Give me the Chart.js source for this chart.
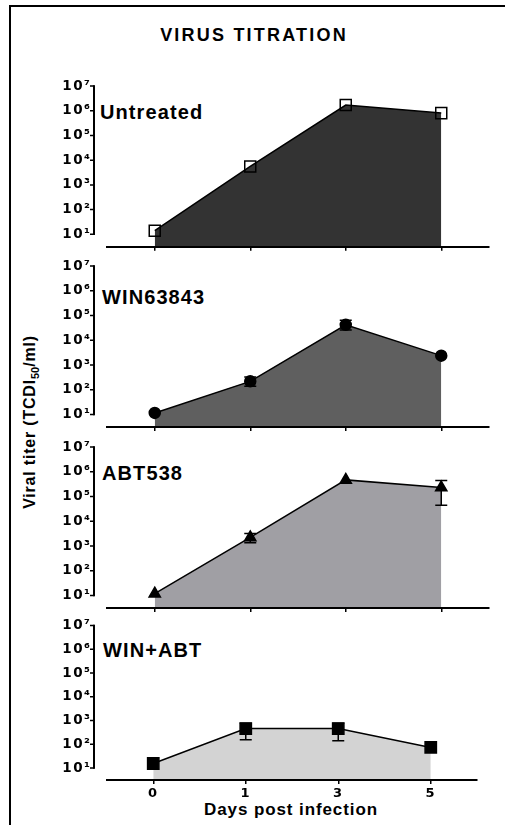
<!DOCTYPE html>
<html><head><meta charset="utf-8">
<script src="https://cdn.jsdelivr.net/npm/chart.js@4.4.1/dist/chart.umd.min.js"></script>
<style>
html,body{margin:0;padding:0;background:#fff;width:505px;height:825px;overflow:hidden;position:relative;font-family:"Liberation Sans",Arial,sans-serif;}
.frame{position:absolute;left:9px;top:5px;width:520px;height:840px;border-left:2px solid #000;border-top:2px solid #000;}
canvas{position:absolute;left:0;z-index:2;}
.t{position:absolute;font-weight:bold;white-space:nowrap;line-height:1;color:#000;z-index:1;}
</style></head><body>
<div class="frame"></div>
<div class="t" style="left:254px;top:35px;transform:translate(-50%,-50%);font-size:18px;letter-spacing:2.2px;">VIRUS TITRATION</div>
<div class="t" style="left:30px;top:422px;transform:translate(-50%,-50%) rotate(-90deg);font-size:16px;letter-spacing:0.8px;">Viral titer (TCDI<span style="font-size:11px;position:relative;top:4px;letter-spacing:0">50</span>/ml)</div>
<div class="t" style="left:100px;top:112px;transform:translateY(-50%);font-size:20px;letter-spacing:1.1px;">Untreated</div>
<div class="t" style="left:102px;top:297px;transform:translateY(-50%);font-size:20px;letter-spacing:1.1px;">WIN63843</div>
<div class="t" style="left:102px;top:473px;transform:translateY(-50%);font-size:20px;letter-spacing:1.1px;">ABT538</div>
<div class="t" style="left:103px;top:650px;transform:translateY(-50%);font-size:20px;letter-spacing:1.1px;">WIN+ABT</div>
<div class="t" style="left:291px;top:809px;transform:translate(-50%,-50%);font-size:17px;letter-spacing:0.9px;">Days post infection</div>

<canvas id="c1" style="top:60px" width="505" height="195"></canvas>
<canvas id="c2" style="top:255px" width="505" height="180"></canvas>
<canvas id="c3" style="top:435px" width="505" height="180"></canvas>
<canvas id="c4" style="top:615px" width="505" height="210"></canvas>

<script>
// ---- data ----
const days = ['0', '1', '3', '5'];
const yTicks = [1e1, 1e2, 1e3, 1e4, 1e5, 1e6, 1e7];

const untreated = [14, 5600, 1.7e6, 8.0e5];

const win63843 = [11.7, 220, 42000, 2400];
const win63843Low = [null, 140, 26000, null];
const win63843High = [null, 330, 65000, null];

const abt538 = [12, 2240, 4.7e5, 2.3e5];
const abt538Low = [null, 1350, null, 4.4e4];
const abt538High = [null, 3200, null, 4.4e5];

const winAbt = [15.6, 460, 460, 74];
const winAbtLow = [null, 155, 140, null];
const winAbtHigh = [null, 765, 780, null];

const sup = {1:'\u00B9',2:'\u00B2',3:'\u00B3',4:'\u2074',5:'\u2075',6:'\u2076',7:'\u2077'};

// ---- drawing helpers (use the chart's own scales) ----
function drawErrorBars(chart, low, high) {
  if (!low) return;
  const ctx = chart.ctx;
  const y = chart.scales.y;
  const meta = chart.getDatasetMeta(0);
  ctx.save();
  ctx.strokeStyle = '#000';
  ctx.lineWidth = 1.5;
  ctx.beginPath();
  for (let i = 0; i < low.length; i++) {
    if (low[i] == null) continue;
    const px = meta.data[i].x;
    const y1 = y.getPixelForValue(low[i]);
    const y2 = y.getPixelForValue(high[i]);
    ctx.moveTo(px, y1); ctx.lineTo(px, y2);
    ctx.moveTo(px - 6, y1); ctx.lineTo(px + 6, y1);
    ctx.moveTo(px - 6, y2); ctx.lineTo(px + 6, y2);
  }
  ctx.stroke();
  ctx.restore();
}

function drawYAxis(chart) {
  const ctx = chart.ctx;
  const y = chart.scales.y;
  const ax = chart.chartArea.left - 13;
  const top = y.getPixelForValue(yTicks[yTicks.length - 1]);
  const bot = y.getPixelForValue(yTicks[0]);
  ctx.save();
  ctx.strokeStyle = '#000';
  ctx.lineWidth = 2;
  ctx.beginPath();
  ctx.moveTo(ax, top - 0.75);
  ctx.lineTo(ax, bot + 0.75);
  ctx.stroke();
  ctx.lineWidth = 1.5;
  ctx.beginPath();
  for (const v of yTicks) {
    const py = y.getPixelForValue(v);
    ctx.moveTo(ax + 0.5, py);
    ctx.lineTo(ax - 4, py);
  }
  ctx.stroke();
  ctx.restore();
}

const prismStyle = {
  id: 'prismStyle',
  beforeDraw(chart) { chart.ctx.letterSpacing = '1.5px'; },
  beforeDatasetsDraw(chart, args, opts) { drawErrorBars(chart, opts.low, opts.high); },
  afterDatasetsDraw(chart) { drawYAxis(chart); }
};

function makePanel(id, values, low, high, cfg) {
  return new Chart(document.getElementById(id), {
    type: 'line',
    data: {
      labels: days,
      datasets: [{
        data: values,
        borderColor: '#000',
        borderWidth: 1.5,
        backgroundColor: cfg.fill,
        fill: 'start',
        tension: 0,
        pointStyle: cfg.pointStyle,
        pointRadius: cfg.radius,
        pointBackgroundColor: cfg.pointFill,
        pointBorderColor: '#000',
        pointBorderWidth: 1.5
      }]
    },
    options: {
      responsive: false,
      animation: false,
      events: [],
      layout: { autoPadding: false, padding: { left: 0, right: cfg.padRight, top: cfg.padTop, bottom: 0 } },
      plugins: {
        legend: { display: false },
        tooltip: { enabled: false },
        filler: { drawTime: 'beforeDraw' },
        prismStyle: { low: low, high: high }
      },
      scales: {
        x: {
          type: 'category',
          offset: true,
          grid: { display: true, drawOnChartArea: false, drawTicks: true, tickLength: 4, color: '#000', lineWidth: 1.5, offset: false },
          border: { display: true, color: '#000', width: 2 },
          ticks: { display: cfg.showX, color: '#000', padding: 2, maxRotation: 0,
                   font: { family: 'DejaVu Sans', weight: 'bold', size: 13 } },
          afterFit(s) { s.height = cfg.xHeight; s.paddingLeft = 0; s.paddingRight = 0; }
        },
        y: {
          type: 'logarithmic',
          min: Math.sqrt(10),
          max: 1e7,
          grid: { display: false, drawTicks: false },
          border: { display: false },
          ticks: {
            color: '#000', padding: 15.5, autoSkip: false,
            font: { family: 'DejaVu Sans', weight: 'bold', size: 13.5 },
            callback: (v) => '10' + (sup[Math.round(Math.log10(v))] || '')
          },
          afterBuildTicks(s) { s.ticks = yTicks.map(v => ({ value: v })); },
          afterFit(s) { s.width = 107; s.paddingTop = 0; s.paddingBottom = 0; }
        }
      }
    },
    plugins: [prismStyle]
  });
}

makePanel('c1', untreated, null, null,
  { fill: '#333333', pointStyle: 'rect', radius: 7.8, pointFill: 'rgba(0,0,0,0)', padRight: 16, padTop: 26, xHeight: 8.3, showX: false });
makePanel('c2', win63843, win63843Low, win63843High,
  { fill: '#5f5f5f', pointStyle: 'circle', radius: 5.5, pointFill: '#000', padRight: 16, padTop: 11, xHeight: 8, showX: false });
makePanel('c3', abt538, abt538Low, abt538High,
  { fill: '#a09fa4', pointStyle: 'triangle', radius: 6.5, pointFill: '#000', padRight: 16, padTop: 12, xHeight: 7, showX: false });
makePanel('c4', winAbt, winAbtLow, winAbtHigh,
  { fill: '#d3d3d3', pointStyle: 'rect', radius: 8, pointFill: '#000', padRight: 28, padTop: 10.5, xHeight: 45, showX: true });
</script>
</body></html>
